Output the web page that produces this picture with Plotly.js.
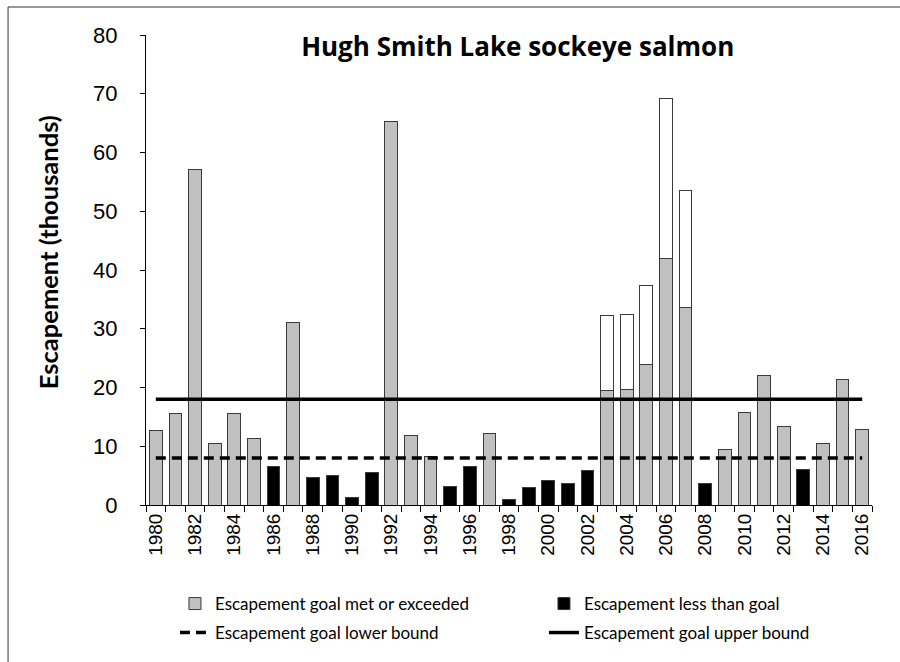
<!DOCTYPE html>
<html>
<head>
<meta charset="utf-8">
<script src="https://cdn.plot.ly/plotly-3.0.1.min.js"></script>
<style>html,body{margin:0;padding:0;background:#fff;}#chart{width:900px;height:662px;}</style>
</head>
<body>
<div id="chart"></div>
<script>
// Years (categories)
const years = [1980,1981,1982,1983,1984,1985,1986,1987,1988,1989,1990,1991,1992,1993,1994,1995,1996,1997,1998,1999,2000,2001,2002,2003,2004,2005,2006,2007,2008,2009,2010,2011,2012,2013,2014,2015,2016];
// Escapement (thousands) where goal met or exceeded
const goalMet = [12.7,15.5,57.1,10.4,15.5,11.3,null,31.1,null,null,null,null,65.3,11.9,8.2,null,null,12.2,null,null,null,null,null,19.5,19.7,23.9,42.0,33.7,null,9.5,15.7,22.0,13.4,null,10.4,21.3,12.9];
// Escapement (thousands) where less than goal
const belowGoal = [null,null,null,null,null,null,6.5,null,4.6,5.0,1.3,5.6,null,null,null,3.2,6.6,null,1.0,3.0,4.1,3.6,5.9,null,null,null,null,null,3.7,null,null,null,null,6.0,null,null,null];
// Additional (white) portion stacked above gray bars
const extraPortion = [null,null,null,null,null,null,null,null,null,null,null,null,null,null,null,null,null,null,null,null,null,null,null,12.7,12.8,13.5,27.2,19.9,null,null,null,null,null,null,null,null,null];
// Escapement goal bounds (thousands)
const goalLower = 8;
const goalUpper = 18;
// Tick labels
const tickYears = [1980,1982,1984,1986,1988,1990,1992,1994,1996,1998,2000,2002,2004,2006,2008,2010,2012,2014,2016];

const lineEnds = [years[0], years[years.length-1]];
const barLine = {color:'#3a3a3a', width:1};

const traces = [
  {type:'bar', name:'Escapement goal met or exceeded', x:years, y:goalMet, legend:'legend',
   marker:{color:'#c0c0c0', line:barLine}},
  {type:'bar', name:'Escapement less than goal', x:years, y:belowGoal, legend:'legend2',
   marker:{color:'#000000', line:barLine}},
  {type:'bar', name:'Additional', x:years, y:extraPortion, showlegend:false,
   marker:{color:'#ffffff', line:barLine}},
  {type:'scatter', mode:'lines', name:'Escapement goal lower bound', x:lineEnds, y:[goalLower,goalLower], legend:'legend3',
   line:{color:'#000', width:3.5, dash:'10px,6px'}},
  {type:'scatter', mode:'lines', name:'Escapement goal upper bound', x:lineEnds, y:[goalUpper,goalUpper], legend:'legend4',
   line:{color:'#000', width:3.5}}
];

const legendBase = {orientation:'h', traceorder:'normal', xref:'container', yref:'container',
  xanchor:'left', yanchor:'top',
  font:{family:'Lato, "Open Sans", sans-serif', size:17, color:'#000'}, bgcolor:'rgba(0,0,0,0)'};
const colLeft = 0.1944, colRight = 0.6044, rowTop = 0.1148, rowBottom = 0.071;

const layout = {
  width:900, height:662,
  margin:{l:146, r:28, t:35, b:157},
  paper_bgcolor:'#fff', plot_bgcolor:'#fff',
  barmode:'stack', bargap:0.35,
  showlegend:true,
  font:{family:'"Liberation Sans", Arial, sans-serif', color:'#000'},
  title:{text:'<b>Hugh Smith Lake sockeye salmon</b>', font:{family:'"Open Sans", Lato, sans-serif', size:26, color:'#000'},
         xref:'paper', x:0.512, xanchor:'center', yref:'container', y:0.929, yanchor:'middle'},
  xaxis:{
    automargin:false,
    range:[1979.5, 2016.5], tickmode:'array', tickvals:tickYears, ticktext:tickYears.map(String),
    tickangle:-90, ticks:'', tickfont:{size:19, family:'"Liberation Sans", Arial, sans-serif'},
    showline:true, linecolor:'#000', linewidth:1, showgrid:false, zeroline:false,
    minor:{tick0:1979.5, dtick:1, ticks:'outside', ticklen:6, tickcolor:'#000', tickwidth:1, showgrid:false}
  },
  yaxis:{
    automargin:false,
    range:[0,80], tickmode:'linear', tick0:0, dtick:10, ticks:'outside', ticklen:5, tickcolor:'#000',
    tickfont:{size:22, family:'"Liberation Sans", Arial, sans-serif'}, ticklabelstandoff:18,
    showline:true, linecolor:'#000', linewidth:1, showgrid:false, zeroline:false
  },
  legend: Object.assign({}, legendBase, {x:colLeft, y:rowTop}),
  legend2: Object.assign({}, legendBase, {x:colRight, y:rowTop}),
  legend3: Object.assign({}, legendBase, {x:colLeft, y:rowBottom}),
  legend4: Object.assign({}, legendBase, {x:colRight, y:rowBottom}),
  annotations:[
    {text:'<b>Escapement (thousands)</b>', xref:'paper', yref:'paper', x:-0.135, y:0.538,
     xanchor:'center', yanchor:'middle', textangle:-90, showarrow:false,
     font:{family:'Lato, "Open Sans", sans-serif', size:25.5, color:'#000'}}
  ],
  shapes:[
    {type:'rect', xref:'paper', yref:'paper', x0:-0.190, x1:1.2, y0:-0.5, y1:1.0596,
     line:{color:'#333', width:1}, fillcolor:'rgba(0,0,0,0)', layer:'below'}
  ]
};

Plotly.newPlot('chart', traces, layout, {displayModeBar:false, staticPlot:true});
</script>
</body>
</html>
